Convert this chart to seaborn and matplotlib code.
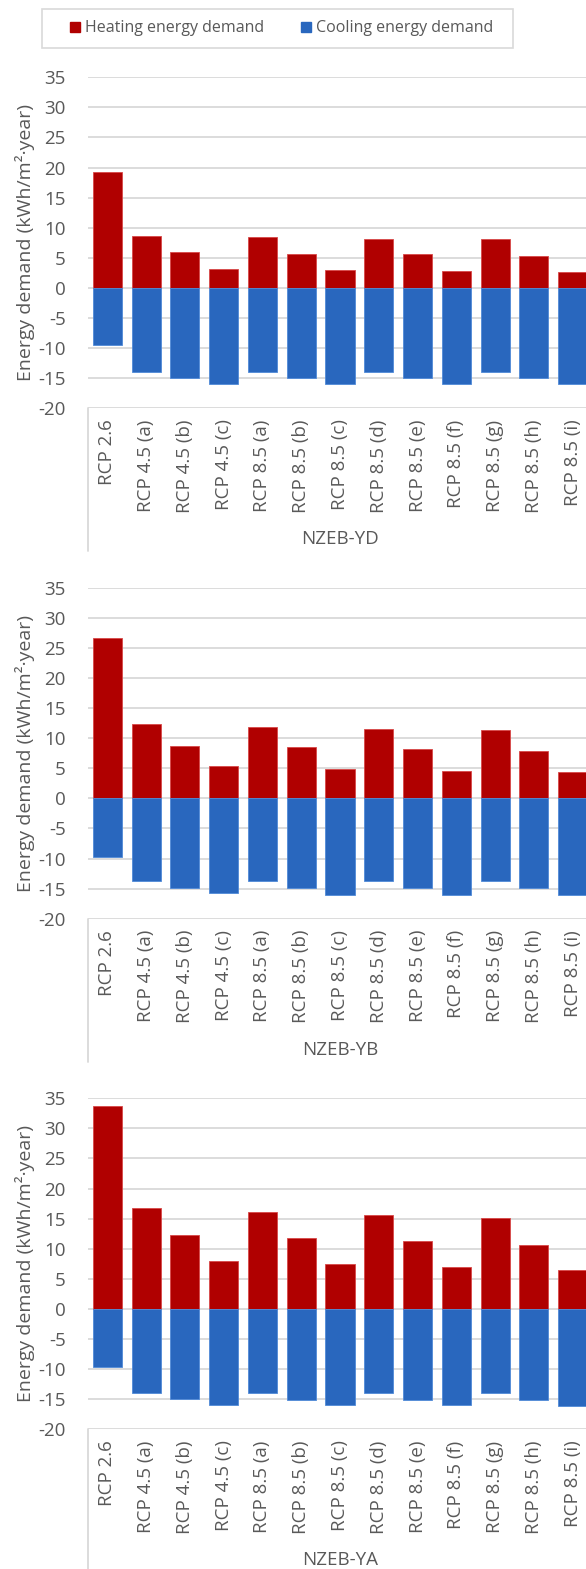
import matplotlib
matplotlib.use("Agg")
import matplotlib.pyplot as plt
from matplotlib.patches import Rectangle, Patch
import numpy as np
import pandas as pd
import seaborn as sns

# ---- data ----
scenarios = ["RCP 2.6", "RCP 4.5 (a)", "RCP 4.5 (b)", "RCP 4.5 (c)",
             "RCP 8.5 (a)", "RCP 8.5 (b)", "RCP 8.5 (c)", "RCP 8.5 (d)",
             "RCP 8.5 (e)", "RCP 8.5 (f)", "RCP 8.5 (g)", "RCP 8.5 (h)",
             "RCP 8.5 (i)"]

buildings = ["NZEB-YD", "NZEB-YB", "NZEB-YA"]

heating_yd = [19.2, 8.6, 5.9, 3.2, 8.4, 5.7, 3.0, 8.2, 5.6, 2.8, 8.1, 5.3, 2.7]
cooling_yd = [-9.5, -13.9, -14.9, -15.9, -13.9, -14.9, -15.9, -13.9, -14.9, -15.9, -13.9, -15.0, -15.9]

heating_yb = [26.6, 12.3, 8.7, 5.3, 11.9, 8.5, 4.9, 11.6, 8.2, 4.6, 11.4, 7.8, 4.3]
cooling_yb = [-9.7, -13.8, -14.9, -15.8, -13.8, -14.9, -16.0, -13.8, -14.9, -16.0, -13.8, -14.9, -16.0]

heating_ya = [33.8, 16.7, 12.3, 8.0, 16.1, 11.8, 7.5, 15.6, 11.3, 6.9, 15.1, 10.7, 6.4]
cooling_ya = [-9.7, -14.0, -14.9, -15.9, -14.0, -15.1, -15.9, -14.0, -15.1, -15.9, -14.0, -15.1, -16.2]

series_names = ["Heating energy demand", "Cooling energy demand"]
yticks = list(range(-20, 40, 5))

panels = [(buildings[0], heating_yd, cooling_yd),
          (buildings[1], heating_yb, cooling_yb),
          (buildings[2], heating_ya, cooling_ya)]

# ---- style ----
sns.set_theme(style="white")
plt.rcParams["font.family"] = ["Open Sans", "DejaVu Sans"]
plt.rcParams["font.size"] = 12

RED = "#B00000"
BLUE = "#2967BE"
GRID = "#D9D9D9"
TXT = "#595959"
FS = 13.5

W, H = 586, 1569
fig = plt.figure(figsize=(W / 100, H / 100), dpi=100)

left_px, right_px = 88, 592
tops_px = [77.3, 587.7, 1098.3]
panel_h = 331.0

for (name, heat, cool), top in zip(panels, tops_px):
    bottom = top + panel_h
    ax = fig.add_axes([left_px / W, 1 - bottom / H,
                       (right_px - left_px) / W, panel_h / H])

    df = pd.DataFrame({
        "scenario": scenarios * 2,
        "value": list(heat) + list(cool),
        "series": [series_names[0]] * len(scenarios) + [series_names[1]] * len(scenarios),
    })
    sns.barplot(data=df, x="scenario", y="value", hue="series",
                palette=[RED, BLUE], saturation=1, dodge=False, width=0.75,
                errorbar=None, legend=False, ax=ax, zorder=3)

    # thin light outline around each bar
    for cont, ec in zip(ax.containers, ["#D84848", "#4F8AD8"]):
        for bar in cont:
            bar.set_edgecolor(ec)
            bar.set_linewidth(0.6)

    ax.set_xlim(-0.5, len(scenarios) - 0.5)
    ax.set_ylim(-20, 35)
    ax.set_yticks(yticks)
    ax.set_yticklabels([str(t) for t in yticks], color=TXT, fontsize=FS)
    ax.tick_params(axis="y", length=0, pad=16)
    ax.tick_params(axis="x", length=0, pad=8, labelrotation=90,
                   labelcolor=TXT, labelsize=FS)
    for lab in ax.get_xticklabels():
        lab.set_va("top")
        lab.set_ha("center")
    ax.yaxis.grid(True, color=GRID, linewidth=1.3, zorder=0)
    ax.xaxis.grid(False)
    for s in ax.spines.values():
        s.set_visible(False)

    ax.set_xlabel("")
    ax.set_ylabel("Energy demand (kWh/m²·year)", color=TXT, fontsize=FS + 0.5)
    ax.yaxis.set_label_coords((25 - left_px) / (right_px - left_px), 0.5)
    ax.yaxis.label.set_va("center")

    # category group box: left border and group name
    ax.plot([0, 0], [0, -143 / panel_h], transform=ax.transAxes,
            color=GRID, linewidth=1.3, clip_on=False)
    ax.text(6, -131 / panel_h, name, transform=ax.get_xaxis_transform(),
            ha="center", va="center", color=TXT, fontsize=FS)

# ---- legend ----
fig.patches.append(Rectangle((42 / W, 1 - 48 / H), (513 - 42) / W, 39 / H,
                             transform=fig.transFigure, facecolor="white",
                             edgecolor=GRID, linewidth=1.2))
handles = [Patch(facecolor=RED, edgecolor=RED), Patch(facecolor=BLUE, edgecolor=BLUE)]
fig.legend(handles, series_names, loc="center", ncol=2,
           bbox_to_anchor=(281.5 / W, 1 - 28.5 / H), frameon=False,
           handlelength=0.65, handleheight=0.65, handletextpad=0.3,
           columnspacing=2.3, fontsize=11.5, labelcolor=TXT)

fig.savefig("out.png", dpi=100)
